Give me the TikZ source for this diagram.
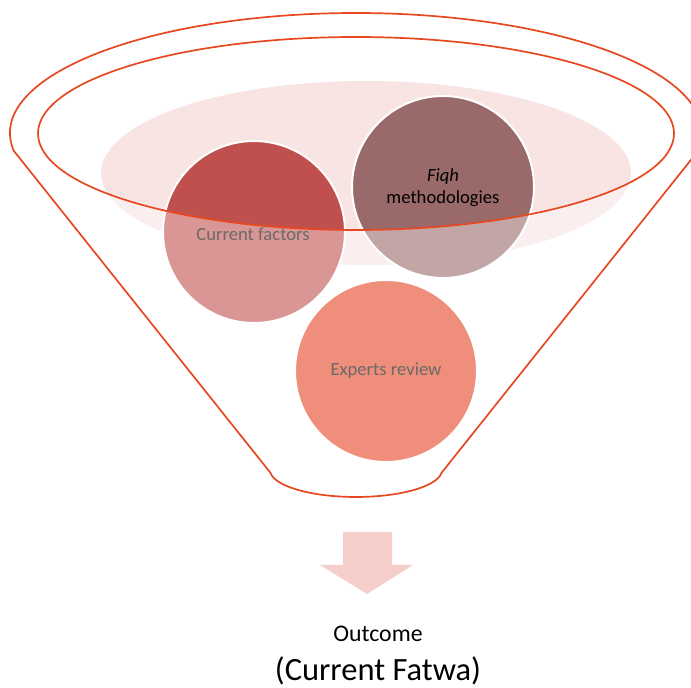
\documentclass[tikz,border=0pt]{standalone}
\usepackage{fontspec}
\setmainfont{Carlito}
\definecolor{funline}{HTML}{E8481F}
\definecolor{pinkbg}{HTML}{F8E4E3}
\definecolor{cfred}{HTML}{C0504D}
\definecolor{fiqhc}{HTML}{9A6A6A}
\definecolor{expc}{HTML}{EF8E7A}
\definecolor{arrowc}{HTML}{F5CDCB}
\definecolor{greytxt}{HTML}{6A6A6A}
\tikzset{
  ball/.style={circle, draw=white, line width=2pt, minimum size=182pt, inner sep=0pt},
  balltext/.style={font=\fontsize{18.6}{22}\selectfont, align=center},
  funnelline/.style={draw=funline, line width=1.7pt}
}
\begin{document}
\begin{tikzpicture}[x=1pt,y=1pt]
\useasboundingbox (0,0) rectangle (691,688);
% background liquid surface
\fill[pinkbg] (366,515) ellipse[x radius=265pt, y radius=92pt];
% circles inside the funnel mouth
\node[ball, fill=cfred] (cf) at (254,456) {};
\node[ball, fill=fiqhc] (fq) at (443,501) {};
% translucent funnel body
\fill[white, fill opacity=0.4, even odd rule]
  (13.91,537) arc[start angle=188.63, end angle=-8.63, x radius=346pt, y radius=120pt]
  -- (441.53,215.18) arc[start angle=-6, end angle=-174, x radius=86pt, y radius=27pt]
  -- cycle
  (356,554.5) ellipse[x radius=318pt, y radius=96.5pt];
\node[ball, fill=expc] (ex) at (386,317) {};
% funnel outlines
\draw[funnelline, line join=round]
  (13.91,537) arc[start angle=188.63, end angle=-8.63, x radius=346pt, y radius=120pt]
  -- (441.53,215.18) arc[start angle=-6, end angle=-174, x radius=86pt, y radius=27pt]
  -- cycle;
\draw[funnelline] (356,554.5) ellipse[x radius=318pt, y radius=96.5pt];
% labels
\node[balltext, text=greytxt] (cft) at (253,454) {Current factors};
\node[balltext, text=black] (fqt) at (443,500) {\textit{Fiqh}\\methodologies};
\node[balltext, text=greytxt] (ext) at (386,317) {Experts review};
% arrow
\fill[arrowc] (343,156) -- (392,156) -- (392,123) -- (413,123) -- (367,94) -- (320,123) -- (343,123) -- cycle;
\node[font=\fontsize{23.8}{28}\selectfont] (out) at (378,54) {Outcome};
\node[font=\fontsize{32.5}{38}\selectfont, inner sep=0pt] (fat) at (378,17) {(Current Fatwa)};
\end{tikzpicture}
\end{document}
